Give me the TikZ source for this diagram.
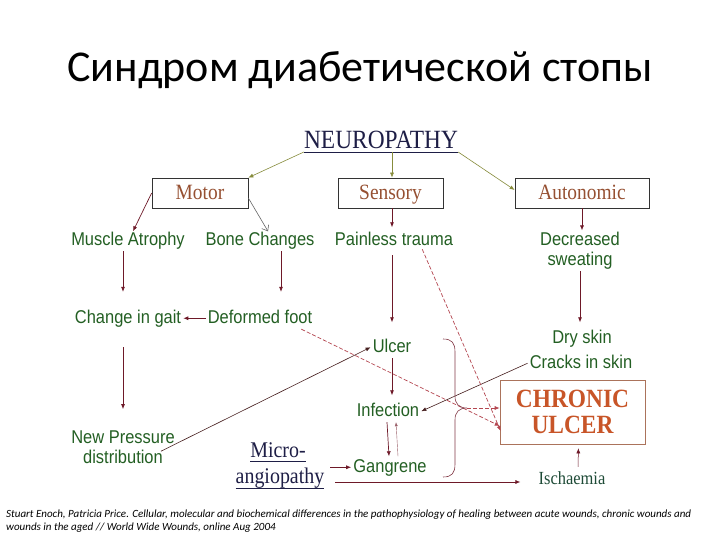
\documentclass[tikz,border=0pt]{standalone}
\usepackage{fontspec}
\setmainfont{Carlito}
\newfontfamily\arialf[FakeStretch=0.89]{Liberation Sans}
\newfontfamily\timesf[FakeStretch=0.89]{Liberation Serif}
\usetikzlibrary{arrows.meta}
\definecolor{labgreen}{RGB}{35,95,35}
\definecolor{boxbrown}{RGB}{150,80,50}
\definecolor{chronicc}{RGB}{200,85,40}
\definecolor{navy}{RGB}{30,30,70}
\definecolor{oliveline}{RGB}{135,140,60}
\definecolor{maroon}{RGB}{110,25,40}
\definecolor{dashred}{RGB}{180,70,80}
\definecolor{darkline}{RGB}{70,30,30}
\definecolor{ischc}{RGB}{30,75,55}
\tikzset{
  lab/.style={font=\arialf\fontsize{18.5}{20}\selectfont, text=labgreen, inner sep=2pt, text height=13.5pt, text depth=4pt, anchor=base},
  lab2/.style={font=\arialf\fontsize{18.5}{20}\selectfont, text=labgreen, inner sep=2pt, align=center},
  catbox/.style={draw=black!80, line width=0.7pt, minimum height=30pt, inner sep=0pt, text height=14.5pt, text depth=1pt, font=\timesf\fontsize{21.8}{24}\selectfont, text=boxbrown},
  oarr/.style={draw=oliveline, line width=0.6pt, -{Latex[length=5pt,width=4pt]}},
  marr/.style={draw=maroon, line width=0.7pt, -{Latex[length=5pt,width=4pt]}},
  darr/.style={draw=dashred, line width=0.7pt, dashed, dash pattern=on 4pt off 2pt, -{Latex[length=5pt,width=4pt]}},
  larr/.style={draw=darkline, line width=0.6pt, -{Latex[length=5pt,width=4pt]}},
  micro/.style={font=\timesf\fontsize{22.4}{26}\selectfont, text=navy, inner sep=0pt, anchor=base},
}
\begin{document}
\begin{tikzpicture}[x=1pt,y=-1pt]
\useasboundingbox[fill=white] (0,0) rectangle (720,540);
% title
\node[font=\fontsize{44}{50}\selectfont] (title) at (360,70) {Синдром диабетической стопы};
% top
\node[anchor=base, font=\timesf\fontsize{26.3}{28}\selectfont, text=navy, inner sep=0pt] (neuro) at (381,148.5) {NEUROPATHY};
\draw[navy, line width=0.6pt] ([yshift=-3.5pt]neuro.base west) -- ([yshift=-3.5pt]neuro.base east);
\coordinate (ul) at ([yshift=-3.5pt]neuro.base);
\node[catbox, minimum width=96pt] (motor) at (200,193) {Motor};
\node[catbox, minimum width=105pt] (sensory) at (390.5,193) {Sensory};
\node[catbox, minimum width=134pt] (autonomic) at (582,193) {Autonomic};
\draw[oarr] ([yshift=-3.5pt]neuro.base west) -- (motor.north east);
\draw[oarr] (ul -| 392,0) -- (392,178 |- sensory.north);
\draw[oarr] ([yshift=-3.5pt]neuro.base east) -- ([yshift=3pt]autonomic.west);
% second row
\node[lab] (muscle) at (128,245) {Muscle Atrophy};
\node[lab] (bone) at (260,245) {Bone Changes};
\node[lab] (painless) at (394,245) {Painless trauma};
\node[lab2] (decr) at (580,250.25) {Decreased\\sweating};
\draw[marr] (motor.west) -- ([xshift=5pt,yshift=-2pt]muscle.north);
\draw[draw=black!60, line width=0.6pt, -{Straight Barb[length=5pt,width=8pt]}] ([yshift=-5pt]motor.east) -- ([xshift=8pt,yshift=-2pt]bone.north);
\draw[marr, shorten >=2pt] (sensory.south -| 392,0) -- (392,0 |- painless.north);
\draw[marr] (autonomic.south) -- ([yshift=-1pt]autonomic.south |- decr.north);
% third row
\node[lab] (gait) at (128,323) {Change in gait};
\node[lab] (deformed) at (260,323) {Deformed foot};
\draw[marr, shorten >=15.5pt] ([xshift=-5pt]muscle.south) -- ([xshift=-5pt]gait.north);
\draw[marr, shorten >=15.5pt] ([xshift=21pt]bone.south) -- ([xshift=21pt]deformed.north);
\draw[marr] (deformed.west) -- (gait.east);
\node[lab2] (newp) at (123,447.25) {New Pressure\\distribution};
\draw[marr, shorten <=18pt, shorten >=19.5pt] ([xshift=-5pt]gait.south) -- ([xshift=-5pt]gait.south |- newp.north);
% sensory chain
\node[lab] (ulcer) at (392,352) {Ulcer};
\node[lab] (infection) at (388,416) {Infection};
\node[lab] (gangrene) at (390,472) {Gangrene};
\draw[marr, shorten <=4pt, shorten >=14pt] (painless.south -| 392,0) -- (392,0 |- ulcer.north);
\draw[marr, shorten >=5pt] (ulcer.south -| 392,0) -- (392,0 |- infection.north);
\draw[marr] ([xshift=-1pt]infection.south) -- ([xshift=-1pt]gangrene.north);
\draw[draw=maroon!70, line width=0.4pt, -{Latex[length=4pt,width=3pt]}] ([xshift=8pt]gangrene.north) -- ([xshift=8pt]infection.south);
% autonomic chain
\node[lab] (dry) at (582,343) {Dry skin};
\node[lab] (cracks) at (581,368) {Cracks in skin};
\draw[marr, shorten >=5pt] (decr.south) -- (decr.south |- dry.north);
% chronic ulcer
\node[draw=boxbrown!80, line width=0.6pt, minimum width=145pt, minimum height=64pt, inner sep=0pt, align=center,
      font=\timesf\bfseries\fontsize{26.3}{26}\selectfont, text=chronicc] (chronic) at (572.5,412) {CHRONIC\\ULCER};
\node[font=\timesf\fontsize{18.5}{20}\selectfont, text=ischc, inner sep=2pt, anchor=base] (isch) at (572,484) {Ischaemia};
\draw[marr, line width=0.5pt, shorten <=2pt, shorten >=4pt] ([xshift=6pt]isch.north) -- ([xshift=6pt]chronic.south);
% micro-angiopathy
\node[micro] (microA) at (278,457) {Micro-};
\node[micro] (microB) at (280,483) {angiopathy};
\draw[navy, line width=0.6pt] ([yshift=-4pt]microA.base west) -- ([yshift=-4pt]microA.base east);
\draw[navy, line width=0.6pt] ([yshift=-5pt]microB.base west) -- ([yshift=-5pt]microB.base east);
\coordinate (mstart) at ([xshift=6pt]microB.north east);
\draw[marr] (mstart) -- (mstart -| gangrene.west);
\coordinate (lstart) at ([xshift=11pt,yshift=1pt]microB.base east);
\draw[marr] (lstart) -- ([xshift=-16pt]lstart -| isch.west);
% long connectors
\draw[larr] ([xshift=-16pt,yshift=-4pt]newp.east) -- (ulcer.west);
\draw[larr] (cracks.west) -- (infection.east);
% dashed
\draw[darr] ([xshift=-13pt]deformed.south east) -- ([yshift=-14pt]chronic.west);
\draw[darr] ([xshift=-33pt,yshift=2pt]painless.south east) -- ([xshift=1pt,yshift=-19pt]chronic.west);
% brace
\coordinate (bracetip) at (467,408);
\draw[maroon!85, line width=0.6pt] (443,339) .. controls (452,339) and (455,343) .. (455,352) -- (455,396)
   .. controls (455,404) and (459,408) .. (bracetip)
   .. controls (459,408) and (455,412) .. (455,420) -- (455,464)
   .. controls (455,473) and (452,477) .. (443,477);
\draw[darr] (bracetip) -- (bracetip -| chronic.west);
% footnote
\node[anchor=north west, align=left, inner sep=0pt, font=\itshape\fontsize{11}{13}\selectfont] (foot) at (6,510)
 {Stuart Enoch, Patricia Price. Cellular, molecular and biochemical differences in the pathophysiology of healing between acute wounds, chronic wounds and\\wounds in the aged // World Wide Wounds, online Aug 2004};
\end{tikzpicture}
\end{document}
